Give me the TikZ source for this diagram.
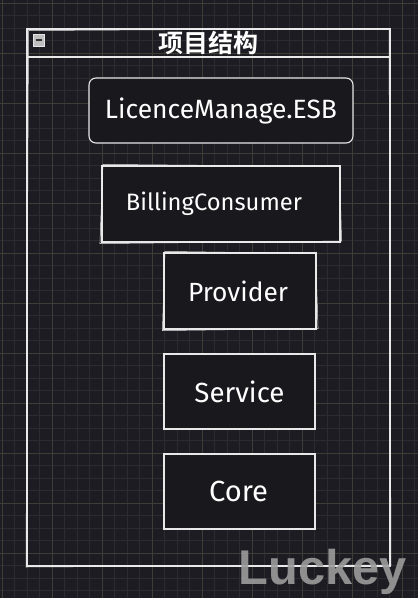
\documentclass[tikz,border=0pt]{standalone}
\usepackage{fontspec}
\setmainfont{Fira Sans}
\newfontfamily\cjkfont{Noto Sans CJK SC}[BoldFont={* Bold}]
\newfontfamily\wmfont{Liberation Sans}
\definecolor{bgc}{HTML}{1D1C22}
\definecolor{minorc}{HTML}{2B2B30}
\definecolor{majorc}{HTML}{3E3D36}
\definecolor{boxfill}{HTML}{19181D}
\definecolor{linec}{HTML}{E8E8E8}
\definecolor{wmc}{HTML}{9C9C9C}
\newcommand{\fitw}[2]{\resizebox{#1}{!}{#2}}
\tikzset{
  sketchbox/.style={draw=linec, line width=1.1pt, fill=boxfill, inner sep=0pt, text=white},
  boxlabel/.style={text=white, inner sep=0pt},
}
\begin{document}
\begin{tikzpicture}[x=1pt,y=-1pt]
\useasboundingbox (0,0) rectangle (418,598);
\fill[bgc] (0,0) rectangle (418,598);
% grid
\foreach \i in {0,...,33} {
  \draw[minorc, line width=0.6pt] ({2+12.5*\i},0) -- ({2+12.5*\i},598);
}
\foreach \i in {0,...,47} {
  \draw[minorc, line width=0.6pt] (0,{3+12.5*\i}) -- (418,{3+12.5*\i});
}
\foreach \i in {0,...,8} {
  \draw[majorc, line width=0.7pt] ({2+50*\i},0) -- ({2+50*\i},598);
}
\foreach \i in {0,...,11} {
  \draw[majorc, line width=0.7pt] (0,{3+50*\i}) -- (418,{3+50*\i});
}
% outer frame
\node[draw=linec, line width=1.1pt, minimum width=363pt, minimum height=537pt, inner sep=0pt] (frame) at (208.5,297.5) {};
\draw[linec!70, line width=0.5pt] (28.5,30.5) -- (389,28.5) -- (391,565) -- (26,567) -- cycle;
\coordinate (barL) at (27,57);
\coordinate (barR) at (390,57);
\draw[linec, line width=1.1pt] (barL) -- (barR);
\node[fill=black!25, draw=black!10, minimum width=11pt, minimum height=12pt, inner sep=0pt] (icon) at (38.5,40) {};
\draw[black!80, line width=1.4pt] ([xshift=-3pt]icon.center) -- ([xshift=3pt]icon.center);
\node[text=white, inner sep=0pt] (title) at (208,43) {\fitw{100pt}{\cjkfont\bfseries 项目结构}};
% boxes
\node[sketchbox, rounded corners=7pt, minimum width=264pt, minimum height=65pt] (lic) at (221,110.5) {};
\node[boxlabel] at (lic.center) {\fitw{232pt}{LicenceManage.ESB}};
\node[sketchbox, minimum width=238pt, minimum height=76pt] (bill) at (221,204) {};
\node[boxlabel] at ([xshift=-7pt]bill.center) {\fitw{176pt}{BillingConsumer}};
\node[sketchbox, minimum width=152pt, minimum height=76pt] (prov) at (240,291) {};
\node[boxlabel] at ([xshift=-2pt]prov.center) {\fitw{100pt}{Provider}};
\node[sketchbox, minimum width=151pt, minimum height=75pt] (serv) at (239.5,391.5) {};
\node[boxlabel] at (serv.center) {\fitw{90pt}{Service}};
\node[sketchbox, minimum width=151pt, minimum height=75pt] (core) at (239.5,491.5) {};
\node[boxlabel] at ([xshift=-1pt]core.center) {\fitw{59pt}{Core}};
% sketch doubles
\draw[linec!60, line width=0.5pt] ([shift={(1.5,-1)}]bill.north west) -- ([shift={(-1,1)}]bill.north east) -- ([shift={(1,-1.5)}]bill.south east) -- ([shift={(-1.5,1)}]bill.south west) -- cycle;
\draw[linec!60, line width=0.5pt] ([shift={(1.5,-1)}]prov.north west) -- ([shift={(-1,1)}]prov.north east) -- ([shift={(1.5,-1)}]prov.south east) -- ([shift={(-1,1)}]prov.south west) -- cycle;
% watermark
\node[text=wmc, opacity=0.9, inner sep=0pt, anchor=base] (wm) at (323,584) {\fitw{168pt}{\wmfont\bfseries Luckey}};
\end{tikzpicture}
\end{document}
